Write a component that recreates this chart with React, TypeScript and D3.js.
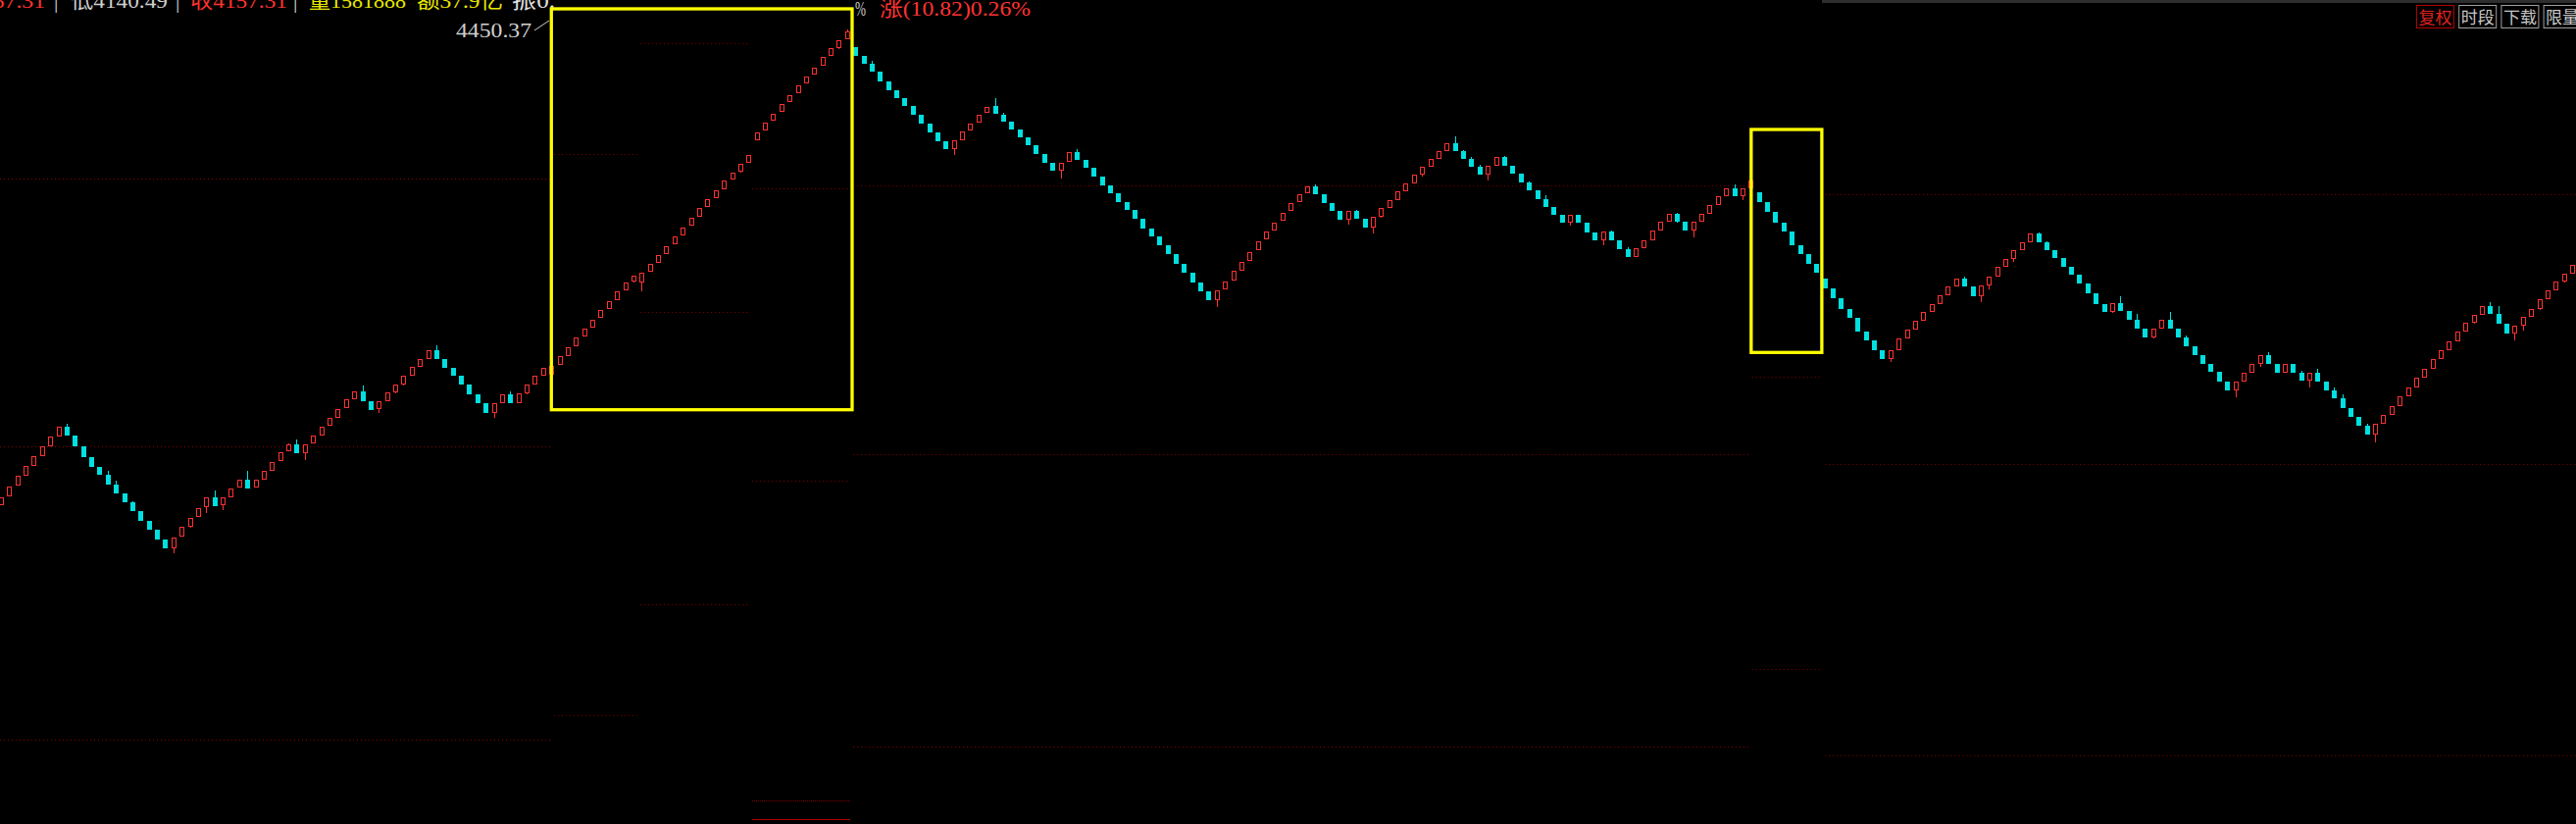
import React from 'react';
import * as d3 from 'd3';

const W = 2627;
const H = 840;

// Each row: [open, close, high?, low?]
type Row = (number | null)[];

const segLeft: Row[] = [
  [3964.7, 3973.3], [3974.3, 3983.7], [3984.7, 3994.7], [3995.3, 4004.7], [4005.3, 4014.7],
  [4015.3, 4024.7], [4025.3, 4034.7], [4035.3, 4044.7], [4045, 4036.3, 4048], [4036, 4025.3],
  [4024.7, 4014.3], [4014, 4004.3], [4004, 3996.3], [3996, 3986.3, 4000], [3986, 3977.3, 3990],
  [3977, 3968.3], [3968, 3959.3, 3969], [3959, 3949.3], [3949, 3940.3], [3940, 3930.3],
  [3930, 3921.3], [3921.3, 3931.7, null, 3916.3], [3932.7, 3942.7], [3943.3, 3951.7, null, 3942.3], [3952.7, 3961.7],
  [3962.7, 3972.7, null, 3957.3], [3973, 3964.3, 3980], [3964.7, 3972.7, null, 3960], [3973.3, 3981.7], [3982.7, 3990.7],
  [3991, 3982.3, 4000], [3982.7, 3990.7], [3991.3, 3999.7], [4000.3, 4008.7], [4009.7, 4018.7],
  [4019.7, 4026.7, 4028], [4027, 4018.3, 4032], [4018.3, 4026.7, null, 4011.3], [4027.7, 4035.7], [4036.3, 4044.7],
  [4045.7, 4053.7], [4054.3, 4062.7], [4063.7, 4072.7], [4073.3, 4080.7], [4081, 4071.3, 4087],
  [4070.7, 4062.3], [4062.7, 4070.7, null, 4059.3], [4071.3, 4079.7], [4080.3, 4088, null, 4079.3], [4088.3, 4096.7, null, 4087.3],
  [4097.3, 4105.7], [4106.3, 4113.7], [4114.3, 4122.7], [4123, 4114.3, 4128], [4113.7, 4105.3],
  [4104.7, 4097.3], [4096.7, 4088.3], [4087.7, 4078.3], [4077.7, 4069.3], [4068.7, 4059.3],
  [4059.3, 4068.7, null, 4054], [4069.3, 4077.7], [4078, 4069.3, 4081], [4069.3, 4078.7], [4079.3, 4087.7, null, 4078.3],
  [4088.3, 4096.7], [4097.3, 4104.7],
];

const segBox1: Row[] = [
  [4098.3, 4106.7], [4107.7, 4116.7], [4117.3, 4125.7], [4126.7, 4135.7], [4136.7, 4145],
  [4145.7, 4154.3], [4155.7, 4163.7], [4164.7, 4172.7], [4174, 4182.7], [4183.7, 4191.7],
  [4192.7, 4199.3, null, 4191.7], [4191.7, 4201.7, null, 4183.3], [4202.7, 4210.7], [4211.7, 4219.7], [4220.7, 4229.3],
  [4230.7, 4238.7], [4240, 4248.3], [4249.7, 4257.7], [4259, 4267.7], [4268.7, 4276.7],
  [4277.7, 4286], [4286.7, 4295.7], [4296.7, 4304.3], [4305.3, 4312.7, null, 4304.3], [4313.7, 4321.7],
  [4337.3, 4345.3], [4346.7, 4355], [4356.7, 4364.3], [4365.7, 4374.3], [4375.7, 4383.3],
  [4384.7, 4393.3], [4394.7, 4402.3], [4403.7, 4411.3], [4412.7, 4421.7], [4422.7, 4430.7],
  [4431.3, 4438.7, null, 4430.3], [4439.7, 4447.7, 4450.4],
];

const segMid: Row[] = [
  [4431.7, 4423.3], [4422.7, 4415.3], [4415, 4407.3, 4418], [4406.7, 4397.3], [4396.7, 4388.3],
  [4387.7, 4380.3], [4379.7, 4372.3], [4371.7, 4363.3], [4362.7, 4354.3], [4353.7, 4345.3],
  [4344.7, 4336.3], [4335.7, 4328.3], [4328.3, 4336.7, null, 4322.3], [4337.3, 4345.7], [4346.7, 4354.3],
  [4355.3, 4363.3], [4364.7, 4371.3], [4371.7, 4364.3, 4380], [4363.3, 4356.3, 4364.7], [4355.7, 4348.3],
  [4347.7, 4340.3], [4339.7, 4332.3], [4331.7, 4323.3], [4322.7, 4314.3], [4313.7, 4306.3],
  [4306.3, 4313.7, null, 4298.3], [4314.7, 4324.7], [4324.7, 4317.3, 4328], [4316.7, 4309.3], [4308.7, 4300.3],
  [4299.7, 4291.3], [4290.7, 4283.3], [4282.7, 4274.3], [4273.7, 4266.3], [4265.7, 4257.3],
  [4256.7, 4247.3], [4246.7, 4239.3], [4238.7, 4230.3], [4229.7, 4221.3], [4220.7, 4211.3],
  [4210.7, 4202.3], [4201.7, 4192.3], [4191.7, 4183.3], [4182.7, 4174.3], [4174.3, 4183.7, null, 4167.3],
  [4184.7, 4192.7], [4193.7, 4203.7], [4204.3, 4212.7], [4213.7, 4223.3], [4224.7, 4234.3],
  [4235.7, 4244.3], [4245.3, 4253.3], [4254.7, 4263.3], [4264.7, 4272.7], [4273.7, 4281.7],
  [4282.7, 4289.7],
];

const segMid2: Row[] = [
  [4290, 4282.3, 4292], [4281.7, 4273.3], [4272.7, 4265.3], [4264.7, 4256.3], [4256.3, 4264.7, null, 4251],
  [4264.7, 4257.3, 4265.7], [4256.7, 4248.3], [4248.3, 4258.7, null, 4242.3], [4259.3, 4267.7, null, 4258.3], [4268.3, 4275.7],
  [4276.3, 4284.7], [4285.3, 4292.7], [4293.3, 4301.7], [4302.3, 4309.7, null, 4300], [4310.3, 4317.7],
  [4318.3, 4325.7], [4326.3, 4333.7], [4334, 4326.3, 4341], [4326, 4318.3, 4327], [4318, 4310.3, 4320],
  [4310, 4302.3, 4312], [4302.3, 4310.7, null, 4296.3], [4311.3, 4319.7], [4320, 4311.3, 4321], [4310.7, 4303.3],
  [4302.7, 4294.3], [4293.7, 4286.3, 4295], [4285.7, 4277.3], [4276.7, 4269.3, 4281], [4268.7, 4261.3],
  [4260.7, 4253.3], [4253.3, 4260.7, null, 4250], [4260.7, 4253.3], [4252.7, 4243.3], [4242.7, 4235.3],
  [4235.3, 4243.7, null, 4230], [4244, 4235.3, 4245], [4234.7, 4226.3], [4225.7, 4218.3, 4227.7], [4218.3, 4226.7],
  [4227.3, 4234.7], [4235.3, 4244.7], [4245.3, 4253.7], [4254.3, 4261.7], [4261.7, 4254.3, 4263, 4253],
  [4253.7, 4245.3], [4245.3, 4253.7, null, 4238], [4254.3, 4261.7], [4262.3, 4270.7], [4271.3, 4279.7],
  [4280.3, 4287.7], [4288, 4280.3, 4292], [4280.3, 4287.7, null, 4276.3], [4288.3, 4296],
];

const segBox2: Row[] = [
  [4284, 4274], [4274, 4264], [4264, 4253], [4253, 4244], [4244, 4230], [4230, 4221], [4221, 4211], [4211, 4202],
];

const segRight: Row[] = [
  [4196, 4186], [4186, 4176], [4176, 4165], [4165, 4156], [4156, 4142],
  [4142, 4133], [4133, 4123], [4123, 4114], [4114, 4123, null, 4111], [4123, 4135],
  [4135, 4144], [4144, 4153], [4153, 4162], [4162, 4170], [4170, 4179],
  [4179, 4188], [4188, 4196], [4196, 4188, 4198], [4188, 4178], [4178, 4189, null, 4172],
  [4189, 4198, null, 4185], [4198, 4208], [4208, 4216], [4216, 4225, null, 4213], [4225, 4233],
  [4233, 4242], [4242, 4233, 4243], [4233, 4225, 4234], [4225, 4217], [4217, 4208],
  [4208, 4200], [4200, 4191], [4191, 4181], [4181, 4170], [4170, 4162],
  [4162, 4171, null, 4161], [4171, 4163, 4178], [4163, 4154], [4154, 4145, 4160], [4145, 4136],
  [4136, 4145, null, 4135], [4145, 4154], [4154, 4145, 4162], [4145, 4136], [4136, 4127, 4138],
  [4127, 4118], [4118, 4109], [4109, 4101], [4101, 4091], [4091, 4082],
  [4082, 4091, null, 4075], [4091, 4100], [4100, 4109], [4109, 4118, null, 4106], [4118, 4109, 4121],
  [4109, 4100], [4100, 4109], [4109, 4100], [4100, 4092, 4102], [4092, 4100, null, 4085],
  [4100, 4091, 4104], [4091, 4082], [4082, 4074, 4085], [4074, 4064, 4078], [4064, 4055],
  [4055, 4046], [4046, 4037, 4048], [4037, 4048, null, 4029], [4048, 4057], [4057, 4066],
  [4066, 4076], [4076, 4085], [4085, 4095], [4095, 4104], [4104, 4114],
  [4114, 4123], [4123, 4132], [4132, 4142], [4142, 4151], [4151, 4159, null, 4150],
  [4159, 4168], [4168, 4160, 4172], [4160, 4150, 4168], [4150, 4140], [4140, 4148, null, 4133],
  [4148, 4157, null, 4143], [4157, 4165], [4165, 4175, null, 4164], [4175, 4184], [4184, 4193],
  [4193, 4201, null, 4192], [4201, 4210],
];

// Reference price levels: [fromSlot, toSlot, price, kind]
const levelLines: [number, number, number, string][] = [
  [-0.5, 66.8, 4025, 'dot'],
  [-0.5, 66.8, 4298, 'dot'],
  [-0.5, 66.8, 3726, 'dot'],
  [77.8, 90.9, 4436, 'dot'],
  [67.3, 77.4, 4322.7, 'dot'],
  [77.8, 90.9, 4161.7, 'dot'],
  [91.4, 103.3, 4287.7, 'dot'],
  [91.4, 103.3, 3989.7, 'dot'],
  [77.8, 90.9, 3863.7, 'dot'],
  [67.3, 77.4, 3751, 'dot'],
  [91.4, 103.3, 3663.7, 'dense'],
  [91.4, 103.3, 3644.7, 'solid'],
  [103.7, 212.8, 4290.7, 'dot'],
  [103.7, 212.8, 4016.7, 'dot'],
  [103.7, 212.8, 3718.7, 'dot'],
  [213.1, 221.4, 4095.7, 'dot'],
  [213.1, 221.4, 3798, 'dot'],
  [222, 313.5, 4281.7, 'dot'],
  [222, 313.5, 4007, 'dot'],
  [222, 313.5, 3710, 'dot'],
];

// Highlight boxes: slot range and price range
const highlightBoxes = [
  { from: 66.95, to: 103.56, top: 4471, bottom: 4062.3 },
  { from: 213.0, to: 221.6, top: 4348, bottom: 4120.7 },
];

// Header quote texts: [text, colour key]
const headerItems: [string, string][] = [
  ['4157.31', 'red'],
  ['|', 'gray'],
  ['低4140.49', 'gray'],
  ['|', 'gray'],
  ['收4157.31', 'red'],
  ['|', 'gray'],
  ['量1581888', 'yellow'],
  ['额37.9亿', 'yellow'],
  ['振0.', 'white'],
];
const changeText = '涨(10.82)0.26%';
const maxLabel = '4450.37';

const buttons = ['复权', '时段', '下载', '限量'];

const RED = '#ff3232';
const CYAN = '#00e0e0';
const FONT = '"Liberation Serif", "Noto Sans CJK SC", serif';
const COLORS: Record<string, string> = { red: RED, gray: '#d0d0d0', yellow: '#e8e800', white: '#e0e0e0' };

// width of a string in a SimSun-like font: CJK = 1em, others = 0.5em
const textWidth = (s: string, fs: number) =>
  Array.from(s).reduce((w, ch) => w + (/[\u4e00-\u9fff]/.test(ch) ? fs : ch === '|' ? fs * 0.25 : fs / 2), 0);

export default function App() {
  const rows = [...segLeft, ...segBox1, ...segMid, ...segMid2, ...segBox2, ...segRight];
  const candles = rows.map((r, i) => {
    const o = r[0] as number;
    const c = r[1] as number;
    const h = r[2] != null ? (r[2] as number) : Math.max(o, c);
    const l = r[3] != null ? (r[3] as number) : Math.min(o, c);
    return { i, o, c, h, l };
  });
  const n = candles.length;
  const x = d3.scaleLinear().domain([0, n - 1]).range([1.4, 2623.6]);
  const y = d3.scaleLinear().domain([3640, 4480]).range([840, 0]);

  const bodyW = 5;
  const FS = 22;

  // header layout: starting x of each item
  const headerX = [-31, 55, 72, 179, 194, 299, 315, 425, 522];

  return (
    <svg
      width={W}
      height={H}
      style={{ position: 'absolute', left: 0, top: 0, background: '#000', display: 'block' }}
      fontFamily={FONT}
    >
      <rect x={0} y={0} width={W} height={H} fill="#000" />
      {/* top gray strip on right part */}
      <rect x={1858} y={0} width={W - 1858} height={3} fill="#2e2e2e" />

      {/* header texts (partly cut at top, as in the screenshot) */}
      <g fontSize={FS}>
        {headerItems.map(([t, col], k) => (
          <text
            key={'h' + k}
            x={headerX[k]}
            y={7.5}
            fill={COLORS[col]}
            textLength={t === '|' ? undefined : textWidth(t, FS)}
            lengthAdjust="spacingAndGlyphs"
          >
            {t}
          </text>
        ))}
        <text x={872} y={16} fill="#c8c8c8" textLength={11} lengthAdjust="spacingAndGlyphs">%</text>
        <text x={897} y={16} fill={RED} textLength={textWidth(changeText, FS)} lengthAdjust="spacingAndGlyphs">
          {changeText}
        </text>
        <text x={465} y={38} fill="#d0d0d0" textLength={textWidth(maxLabel, FS)} lengthAdjust="spacingAndGlyphs">
          {maxLabel}
        </text>
      </g>
      <line x1={545} y1={31} x2={560} y2={21} stroke="#d0d0d0" strokeWidth={1} />

      {/* box backgrounds */}
      {highlightBoxes.map((b, k) => (
        <rect
          key={'bf' + k}
          x={x(b.from)}
          y={y(b.top)}
          width={x(b.to) - x(b.from)}
          height={y(b.bottom) - y(b.top)}
          fill="#000"
        />
      ))}

      {/* level lines */}
      {levelLines.map(([a, b, p, kind], k) => {
        const yy = Math.round(y(p)) + 0.5;
        const dash = kind === 'dot' ? '1,3' : kind === 'dense' ? '1,1' : undefined;
        const col = kind === 'solid' ? '#b00000' : '#8a0000';
        return (
          <line
            key={'l' + k}
            x1={Math.max(0, x(a))}
            x2={Math.min(W, x(b))}
            y1={yy}
            y2={yy}
            stroke={col}
            strokeWidth={1}
            strokeDasharray={dash}
          />
        );
      })}

      {/* candles */}
      <g shapeRendering="crispEdges">
        {candles.map((d) => {
          const cx = x(d.i);
          const left = Math.round(cx - bodyW / 2);
          const mid = left + 2.5;
          const up = d.c >= d.o;
          const yTop = Math.round(y(Math.max(d.o, d.c)));
          const yBot = Math.round(y(Math.min(d.o, d.c)));
          const yHi = Math.round(y(d.h));
          const yLo = Math.round(y(d.l));
          if (up) {
            return (
              <g key={d.i}>
                {yHi < yTop && <line x1={mid} x2={mid} y1={yHi} y2={yTop} stroke={RED} strokeWidth={1} />}
                {yLo > yBot && <line x1={mid} x2={mid} y1={yBot} y2={yLo} stroke={RED} strokeWidth={1} />}
                <rect
                  x={left + 0.5}
                  y={yTop + 0.5}
                  width={bodyW - 1}
                  height={Math.max(1, yBot - yTop - 1)}
                  fill="#000"
                  stroke={RED}
                  strokeWidth={1}
                />
              </g>
            );
          }
          return (
            <g key={d.i}>
              {(yHi < yTop || yLo > yBot) && (
                <line x1={mid} x2={mid} y1={yHi} y2={yLo} stroke={CYAN} strokeWidth={1} />
              )}
              <rect x={left} y={yTop} width={bodyW} height={Math.max(1, yBot - yTop)} fill={CYAN} />
            </g>
          );
        })}
      </g>

      {/* box outlines */}
      {highlightBoxes.map((b, k) => (
        <rect
          key={'bo' + k}
          x={x(b.from)}
          y={y(b.top)}
          width={x(b.to) - x(b.from)}
          height={y(b.bottom) - y(b.top)}
          fill="none"
          stroke="#ffff00"
          strokeWidth={3.3}
        />
      ))}

      {/* buttons top-right */}
      <g fontSize={17} fontFamily='"Noto Sans CJK SC", sans-serif'>
        {buttons.map((t, k) => {
          const bx = 2464 + k * 43.2;
          const active = k === 0;
          return (
            <g key={t}>
              <rect
                x={bx + 0.5}
                y={5.5}
                width={38}
                height={23}
                fill="#000"
                stroke={active ? '#b00000' : '#a0a0a0'}
                strokeWidth={1}
              />
              <text x={bx + 19.5} y={24} textAnchor="middle" fill={active ? '#e02020' : '#c8c8c8'}>
                {t}
              </text>
            </g>
          );
        })}
      </g>
    </svg>
  );
}
